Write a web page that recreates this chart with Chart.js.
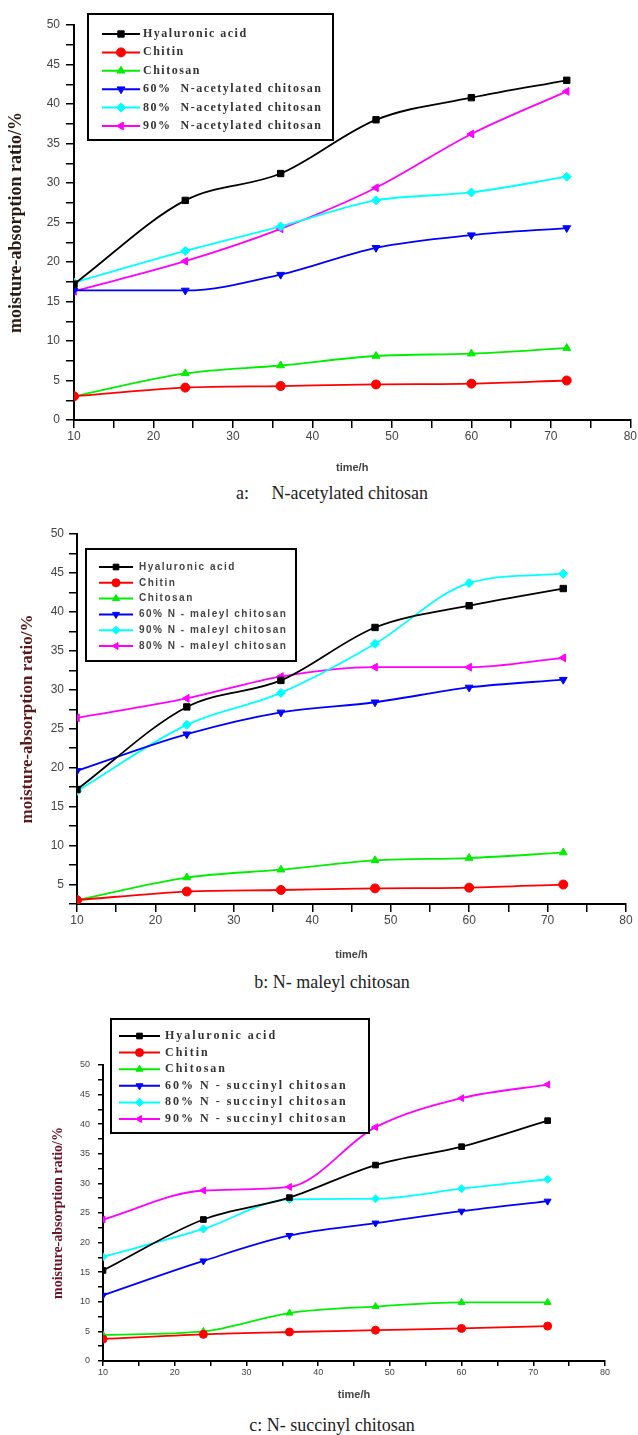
<!DOCTYPE html>
<html>
<head>
<meta charset="utf-8">
<script src="https://cdn.jsdelivr.net/npm/chart.js@4/dist/chart.umd.min.js"></script>
<style>
  body { margin: 0; background: #fff; }
  #page { position: relative; width: 638px; height: 1435px; background: #fff; overflow: hidden; }
  .panel { position: absolute; left: 0; width: 638px; }
  .caption { position: absolute; transform: translate(-50%, -50%); white-space: pre; font-family: "Liberation Serif", serif; font-size: 18px; color: #222; }
</style>
</head>
<body>
<div id="page">
  <div class="panel" style="top:0;height:478px"><canvas id="chartA" width="638" height="478"></canvas></div>
  <div class="caption" style="left:332px;top:493px">a:     N-acetylated chitosan</div>
  <div class="panel" style="top:505px;height:460px"><canvas id="chartB" width="638" height="460"></canvas></div>
  <div class="caption" style="left:332px;top:982px">b: N- maleyl chitosan</div>
  <div class="panel" style="top:1005px;height:400px"><canvas id="chartC" width="638" height="400"></canvas></div>
  <div class="caption" style="left:332px;top:1425px">c: N- succinyl chitosan</div>
</div>
<script>
// sampling times (h), same for all three panels
const timeHours = [10, 24, 36, 48, 60, 72];

// common reference series
const hyaluronicAcid = [17.2, 27.8, 31.2, 38.0, 40.8, 43.0];
const chitin = [3.0, 4.1, 4.3, 4.5, 4.6, 5.0];
const chitosan = [3.0, 5.9, 6.9, 8.1, 8.4, 9.1];

// a: N-acetylated chitosan
const labelsA = ["Hyaluronic acid", "Chitin", "Chitosan",
  "60%  N-acetylated chitosan", "80%  N-acetylated chitosan", "90%  N-acetylated chitosan"];
const acetyl60 = [16.4, 16.4, 18.4, 21.8, 23.4, 24.3];
const acetyl80 = [17.4, 21.4, 24.5, 27.8, 28.8, 30.8];
const acetyl90 = [16.3, 20.1, 24.2, 29.4, 36.2, 41.6];

// b: N-maleyl chitosan (legend order 60 / 90 / 80)
const labelsB = ["Hyaluronic acid", "Chitin", "Chitosan",
  "60% N - maleyl chitosan", "90% N - maleyl chitosan", "80% N - maleyl chitosan"];
const maleyl60 = [19.6, 24.3, 27.1, 28.4, 30.3, 31.3];
const maleyl90 = [17.0, 25.5, 29.6, 35.9, 43.7, 44.9];
const maleyl80 = [26.4, 28.9, 31.7, 32.9, 32.9, 34.1];

// c: N-succinyl chitosan
const labelsC = ["Hyaluronic acid", "Chitin", "Chitosan",
  "60% N - succinyl chitosan", "80% N - succinyl chitosan", "90% N - succinyl chitosan"];
const hyaluronicC = [15.3, 23.9, 27.6, 33.1, 36.2, 40.6];
const chitinC = [3.7, 4.5, 4.9, 5.2, 5.5, 5.9];
const chitosanC = [4.4, 5.0, 8.1, 9.2, 9.9, 9.9];
const succinyl60 = [11.1, 16.9, 21.2, 23.3, 25.3, 27.0];
const succinyl80 = [17.6, 22.3, 27.3, 27.4, 29.1, 30.7];
const succinyl90 = [23.9, 28.8, 29.4, 39.5, 44.4, 46.7];

const markerStyles = [
  { color: '#000000', pointStyle: 'rect', rot: 0 },
  { color: '#ff0000', pointStyle: 'circle', rot: 0 },
  { color: '#00ee00', pointStyle: 'triangle', rot: 0 },
  { color: '#0000ff', pointStyle: 'triangle', rot: 180 },
  { color: '#00ffff', pointStyle: 'rectRot', rot: 0 },
  { color: '#ff00ff', pointStyle: 'triangle', rot: -90 }
];

function makeDatasets(labels, seriesList, radius) {
  return seriesList.map((vals, i) => {
    const m = markerStyles[i];
    return {
      label: labels[i],
      data: timeHours.map((t, k) => ({ x: t, y: vals[k] })),
      borderColor: m.color, backgroundColor: m.color,
      borderWidth: 1.8, cubicInterpolationMode: 'monotone',
      pointStyle: m.pointStyle, pointRotation: m.rot,
      pointRadius: radius, pointBorderWidth: 1
    };
  });
}

// legend box drawn inside the canvas, Origin style
const boxLegend = {
  id: 'boxLegend',
  afterDatasetsDraw(chart, args, o) {
    const ctx = chart.ctx;
    ctx.save();
    ctx.fillStyle = '#fff';
    ctx.fillRect(o.x, o.y, o.w, o.h);
    ctx.lineWidth = 2; ctx.strokeStyle = '#000';
    ctx.strokeRect(o.x, o.y, o.w, o.h);
    chart.data.datasets.forEach((ds, i) => {
      const y = o.y + o.first + i * o.rowH;
      ctx.strokeStyle = ds.borderColor; ctx.lineWidth = 2;
      ctx.beginPath(); ctx.moveTo(o.x0, y); ctx.lineTo(o.x1, y); ctx.stroke();
      ctx.fillStyle = ds.backgroundColor;
      ctx.lineWidth = 1;
      Chart.helpers.drawPoint(ctx, { pointStyle: ds.pointStyle, rotation: ds.pointRotation, radius: o.r, borderWidth: 1 }, (o.x0 + o.x1) / 2, y);
      ctx.fillStyle = o.color; ctx.font = o.font; ctx.textBaseline = 'middle'; ctx.textAlign = 'left';
      if ('letterSpacing' in ctx) ctx.letterSpacing = o.spacing;
      ctx.fillText(ds.label, o.tx, y);
    });
    ctx.restore();
  }
};

function buildChart(id, cfg) {
  const tickGrid = { display: true, drawOnChartArea: false, drawTicks: true, tickLength: cfg.tickLen, color: '#000', lineWidth: 1.5 };
  return new Chart(document.getElementById(id), {
    type: 'line',
    data: { datasets: cfg.datasets },
    options: {
      responsive: false, animation: false, devicePixelRatio: 1,
      layout: { padding: { left: 0, right: cfg.padRight, top: cfg.padTop, bottom: 0 } },
      plugins: { legend: { display: false }, tooltip: { enabled: false }, boxLegend: cfg.legend },
      scales: {
        x: {
          type: 'linear', min: 10, max: 80,
          border: { color: '#000', width: 2 },
          grid: tickGrid,
          ticks: { stepSize: 5, autoSkip: false, maxRotation: 0, padding: 1, color: '#444',
            font: { family: 'Liberation Sans', size: cfg.tickSize },
            callback: v => (v % 10 === 0 ? v : '') },
          title: { display: true, text: 'time/h', color: '#444',
            font: { family: 'Liberation Sans', size: 11, weight: 'bold' }, padding: { top: 0, bottom: 3.4 } },
          afterFit: s => { s.height = cfg.xHeight; }
        },
        y: {
          min: cfg.yMin, max: 50,
          border: { color: '#000', width: 2 },
          grid: tickGrid,
          ticks: { stepSize: 2.5, autoSkip: false, padding: cfg.yTickPad, color: '#444',
            font: { family: 'Liberation Sans', size: cfg.tickSize },
            callback: v => (v % 5 === 0 ? v : '') },
          title: { display: true, text: 'moisture-absorption ratio/%', color: cfg.yTitleColor,
            font: { family: 'Liberation Serif', size: cfg.yTitleSize, weight: 'bold' },
            padding: { top: cfg.yTitlePad, bottom: 0 } },
          afterFit: s => { s.width = cfg.yWidth; }
        }
      }
    },
    plugins: [boxLegend]
  });
}

buildChart('chartA', {
  datasets: makeDatasets(labelsA, [hyaluronicAcid, chitin, chitosan, acetyl60, acetyl80, acetyl90], 4.5),
  padTop: 25, padRight: 7, xHeight: 58, yWidth: 74, yMin: 0, tickLen: 8, tickSize: 12, yTickPad: 6,
  yTitleColor: '#2a1a10', yTitleSize: 18, yTitlePad: 6,
  legend: { x: 88, y: 14, w: 245, h: 126, first: 20, rowH: 18.4, x0: 102, x1: 140, tx: 143, r: 4.5,
    font: 'bold 12px "Liberation Serif"', color: '#333', spacing: '1.5px' }
});

buildChart('chartB', {
  datasets: makeDatasets(labelsB, [hyaluronicAcid, chitin, chitosan, maleyl60, maleyl90, maleyl80], 4.5),
  padTop: 29, padRight: 12, xHeight: 61, yWidth: 77, yMin: 2.5, tickLen: 8, tickSize: 12, yTickPad: 5,
  yTitleColor: '#5a1818', yTitleSize: 17, yTitlePad: 17,
  legend: { x: 86, y: 44, w: 210, h: 112, first: 18, rowH: 15.8, x0: 99, x1: 133, tx: 139, r: 4,
    font: 'bold 10px "Liberation Sans"', color: '#444', spacing: '1.5px' }
});

buildChart('chartC', {
  datasets: makeDatasets(labelsC, [hyaluronicC, chitinC, chitosanC, succinyl60, succinyl80, succinyl90], 4),
  padTop: 60, padRight: 33, xHeight: 44, yWidth: 103, yMin: 0, tickLen: 5, tickSize: 9, yTickPad: 8,
  yTitleColor: '#6a1428', yTitleSize: 14, yTitlePad: 49.6,
  legend: { x: 111, y: 14, w: 258, h: 114, first: 17, rowH: 16.6, x0: 119, x1: 160, tx: 165, r: 4,
    font: 'bold 12px "Liberation Serif"', color: '#333', spacing: '2px' }
});
</script>
</body>
</html>
